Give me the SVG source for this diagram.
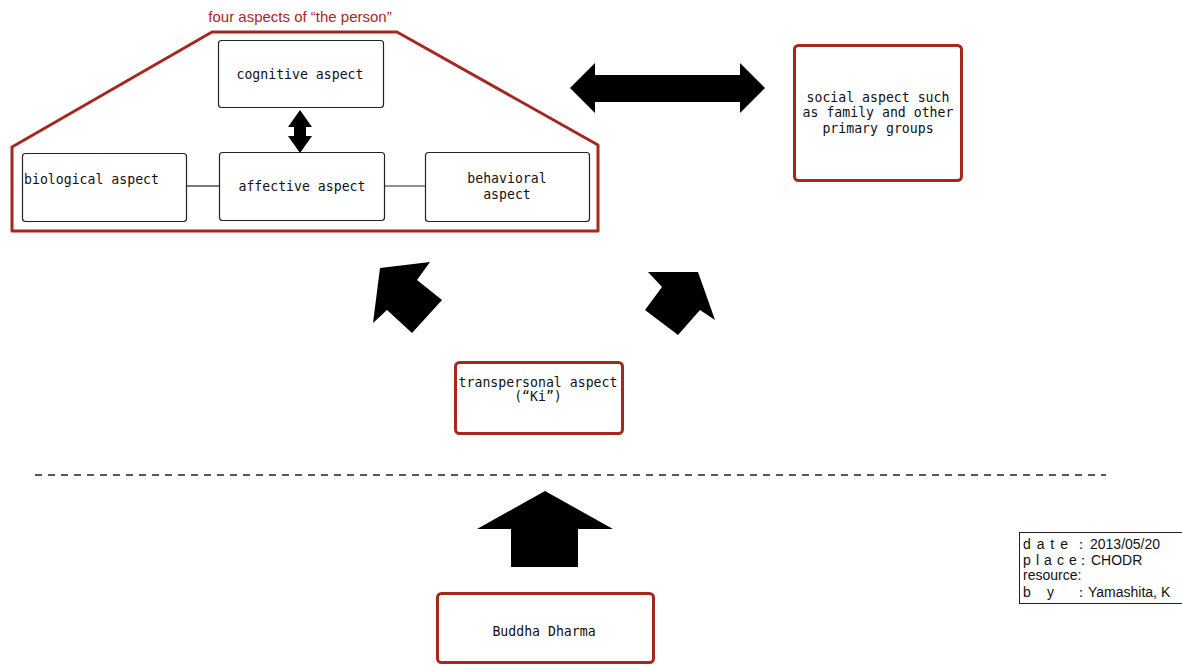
<svg xmlns="http://www.w3.org/2000/svg" width="1182" height="665" viewBox="0 0 1182 665">
<style>
.bg{fill:#ffffff}
.box{fill:#ffffff;stroke:#222222;stroke-width:1.2}
.rbox{fill:#ffffff;stroke:#a3291f;stroke-width:3}
.mono{font-family:"DejaVu Sans Mono","Liberation Mono",monospace;font-size:13.2px;fill:#111111}
.mid{text-anchor:middle}
.arrow{fill:#000000;stroke:none}
.line{stroke:#222222;stroke-width:1.2;fill:none}
.sans{font-family:"Liberation Sans",Arial,sans-serif;fill:#111111}
</style>
<rect class="bg" x="0" y="0" width="1182" height="665"/>

<g id="group-person">
  <path d="M 12,147 L 212,32 L 397,32 L 598,145 L 598,231 L 12,231 Z" fill="none" stroke="#a3291f" stroke-width="3" stroke-linejoin="round"/>
  <text x="300" y="22" class="sans mid" style="font-size:15px;fill:#a3291f">four aspects of “the person”</text>
</g>

<g id="node-cognitive">
  <rect class="box" x="218.5" y="40.5" width="165" height="67" rx="3"/>
  <text x="300" y="79" class="mono mid">cognitive aspect</text>
</g>
<g id="node-biological">
  <rect class="box" x="22.5" y="153.5" width="164" height="68" rx="3"/>
  <text x="24" y="184" class="mono">biological aspect</text>
</g>
<g id="node-affective">
  <rect class="box" x="219.5" y="152.5" width="165" height="68" rx="3"/>
  <text x="302" y="191" class="mono mid">affective aspect</text>
</g>
<g id="node-behavioral">
  <rect class="box" x="425.5" y="152.5" width="164" height="69" rx="3"/>
  <text x="507" y="183" class="mono mid">behavioral</text>
  <text x="507" y="199" class="mono mid">aspect</text>
</g>
<g id="node-social">
  <rect class="rbox" x="794.5" y="45.5" width="167" height="135" rx="4"/>
  <text x="878" y="102" class="mono mid">social aspect such</text>
  <text x="878" y="117" class="mono mid">as family and other</text>
  <text x="878" y="133" class="mono mid">primary groups</text>
</g>
<g id="node-transpersonal">
  <rect class="rbox" x="455.5" y="362.5" width="167" height="71" rx="4"/>
  <text x="538" y="387" class="mono mid">transpersonal aspect</text>
  <text x="538" y="401" class="mono mid">(“Ki”)</text>
</g>
<g id="node-buddha">
  <rect class="rbox" x="437.5" y="593.5" width="216" height="69" rx="4"/>
  <text x="544" y="636" class="mono mid">Buddha Dharma</text>
</g>

<g id="connectors">
  <line class="line" x1="187" y1="186" x2="219" y2="186"/>
  <line class="line" x1="385" y1="186" x2="425" y2="186"/>
  <polygon class="arrow" points="300,110 312,127 306,127 306,136 312,136 300,153 288,136 294,136 294,127 288,127"/>
  <polygon class="arrow" points="570,88 595,63 595,75 740,75 740,63 765,88 740,113 740,102 595,102 595,113"/>
  <polygon class="arrow" points="380,268 430,262 417,280 442,300 412,333 387,310 373,323"/>
  <polygon class="arrow" points="648,272 698,272 715,320 700,310 678,335 645,310 662,287"/>
  <polygon class="arrow" points="545,491 613,529 578,529 578,567 511,567 511,529 477,529"/>
  <line x1="35" y1="475" x2="1106" y2="475" stroke="#222222" stroke-width="1.5" stroke-dasharray="7 6"/>
</g>

<g id="info">
  <rect x="1019.5" y="532.5" width="200" height="71" fill="#ffffff" stroke="#222222" stroke-width="1"/>
  <text class="sans" style="font-size:14px" y="549"><tspan x="1023" style="letter-spacing:1px">d a t e</tspan><tspan x="1074">：</tspan><tspan x="1090">2013/05/20</tspan></text>
  <text class="sans" style="font-size:14px" y="565"><tspan x="1023" style="letter-spacing:0.6px">p l a c e</tspan><tspan x="1076">：</tspan><tspan x="1091">CHODR</tspan></text>
  <text class="sans" style="font-size:14px" y="580"><tspan x="1023">resource:</tspan></text>
  <text class="sans" style="font-size:14px" y="597"><tspan x="1023">b</tspan><tspan x="1047">y</tspan><tspan x="1074">：</tspan><tspan x="1088">Yamashita, K</tspan></text>
</g>
</svg>
